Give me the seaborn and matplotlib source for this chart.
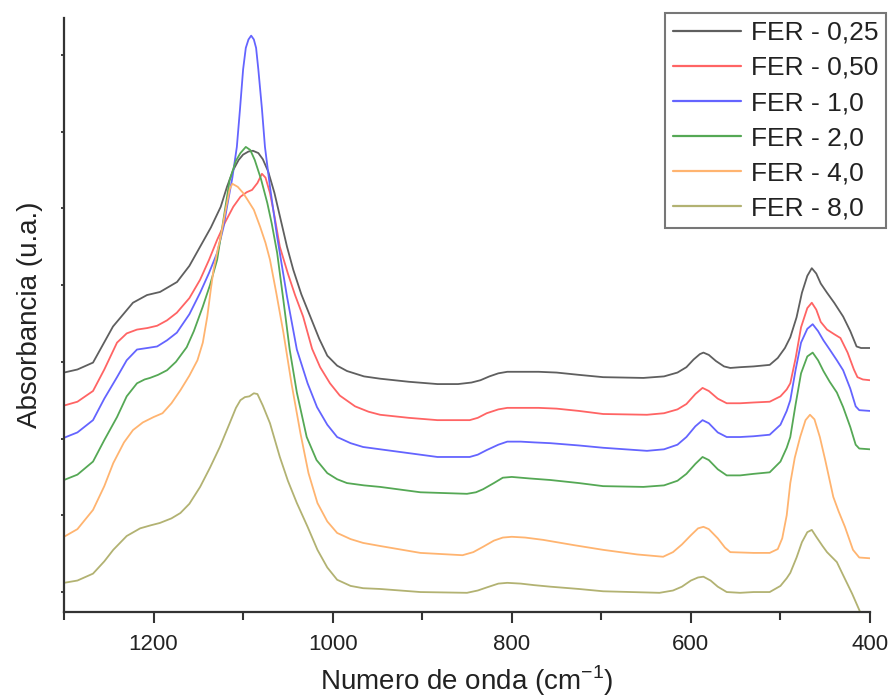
import numpy as np
import pandas as pd
import matplotlib
matplotlib.use("Agg")
import matplotlib.pyplot as plt
import seaborn as sns

sns.set_theme(style="white")
plt.rcParams['font.family'] = ['Liberation Sans', 'DejaVu Sans']

labels = ["FER - 0,25", "FER - 0,50", "FER - 1,0", "FER - 2,0", "FER - 4,0", "FER - 8,0"]
colors = ["#5f5f5f", "#ff6464", "#6464ff", "#55a855", "#ffb470", "#b2b272"]

w_025 = [1300, 1285, 1267.6, 1245.3, 1223, 1207.3, 1192.8, 1173.8, 1160, 1148, 1136, 1125, 1118, 1111, 1105,
         1100, 1094, 1089, 1083, 1078, 1072, 1065, 1058, 1051, 1044, 1035, 1025, 1015, 1006, 995, 984, 965,
         947, 915, 883, 860, 845, 835, 825, 815, 805, 790, 770, 750, 725, 698, 653, 630, 615, 605, 597, 590,
         586, 580, 572, 563, 556, 545, 530, 512, 503, 495, 489, 482, 476, 470, 465, 460, 455, 448, 440, 430,
         422, 415, 410, 400]
a_025 = [2.86, 2.90, 2.99, 3.46, 3.77, 3.87, 3.91, 4.04, 4.25, 4.50, 4.75, 5.02, 5.28, 5.50, 5.63,
         5.70, 5.74, 5.75, 5.72, 5.64, 5.48, 5.20, 4.85, 4.50, 4.20, 3.88, 3.59, 3.30, 3.08, 2.95, 2.88, 2.81,
         2.78, 2.74, 2.71, 2.71, 2.73, 2.76, 2.81, 2.85, 2.87, 2.87, 2.87, 2.86, 2.83, 2.80, 2.79, 2.81, 2.86,
         2.93, 3.03, 3.10, 3.12, 3.09, 3.01, 2.94, 2.92, 2.93, 2.94, 2.96, 3.05, 3.18, 3.32, 3.58, 3.90, 4.12,
         4.22, 4.15, 4.02, 3.90, 3.77, 3.59, 3.40, 3.20, 3.18, 3.18]

w_050 = [1300, 1285, 1267.6, 1255, 1240.8, 1230, 1218.5, 1207, 1196, 1185, 1174, 1160, 1148, 1138, 1129, 1120,
         1111, 1103, 1096, 1090, 1084, 1079, 1075, 1070, 1065, 1059, 1050, 1042, 1033, 1023, 1014, 1003, 992,
         975, 960, 947, 915, 883, 847, 838, 828, 815, 805, 790, 770, 750, 725, 698, 649, 630, 615, 605, 595,
         587, 580, 570, 560, 545, 530, 512, 500, 493, 489, 483, 477, 470, 465, 460, 455, 448, 440, 433, 425,
         418, 414, 408, 400]
a_050 = [2.43, 2.48, 2.62, 2.90, 3.25, 3.37, 3.42, 3.44, 3.47, 3.54, 3.64, 3.83, 4.07, 4.33, 4.59, 4.82,
         5.02, 5.15, 5.21, 5.24, 5.33, 5.45, 5.40, 5.20, 4.90, 4.50, 4.15, 3.87, 3.59, 3.17, 2.93, 2.72, 2.56,
         2.42, 2.35, 2.31, 2.27, 2.24, 2.24, 2.27, 2.33, 2.38, 2.40, 2.40, 2.40, 2.39, 2.36, 2.32, 2.31, 2.33,
         2.38, 2.45, 2.58, 2.66, 2.62, 2.52, 2.46, 2.46, 2.47, 2.48, 2.55, 2.64, 2.72, 3.05, 3.45, 3.70, 3.77,
         3.68, 3.52, 3.42, 3.36, 3.31, 3.12, 2.90, 2.80, 2.77, 2.76]

w_10 = [1300, 1285, 1267.6, 1255, 1240.8, 1230, 1218.5, 1207, 1196, 1185, 1174, 1160, 1148, 1138, 1129, 1122,
        1118, 1112, 1107, 1103.5, 1100, 1097, 1094, 1091, 1088, 1085.5, 1083, 1079, 1075.6, 1070, 1062, 1051,
        1040, 1028, 1017.5, 1006, 995, 980, 966, 947, 915, 883, 847, 838, 828, 815, 805, 790, 775, 757, 725,
        698, 649, 630, 615, 605, 595, 587, 580, 570, 560, 545, 530, 512, 500, 493, 489, 483, 477, 470, 464,
        458, 452, 445, 437, 430, 422, 416, 412, 400]
a_10 = [2.01, 2.08, 2.24, 2.52, 2.80, 3.02, 3.16, 3.18, 3.20, 3.28, 3.38, 3.62, 3.90, 4.16, 4.42, 4.75,
        5.02, 5.40, 5.80, 6.29, 6.81, 7.09, 7.20, 7.25, 7.20, 7.09, 6.81, 6.30, 5.80, 5.28, 4.63, 3.85,
        3.16, 2.72, 2.41, 2.18, 2.02, 1.94, 1.89, 1.86, 1.81, 1.76, 1.76, 1.79, 1.85, 1.92, 1.96, 1.96, 1.95,
        1.94, 1.91, 1.88, 1.84, 1.86, 1.92, 2.02, 2.16, 2.24, 2.20, 2.08, 2.02, 2.02, 2.03, 2.05, 2.18, 2.36,
        2.50, 2.90, 3.25, 3.43, 3.49, 3.40, 3.28, 3.16, 3.02, 2.89, 2.65, 2.42, 2.37, 2.36]

w_20 = [1300, 1285, 1267.6, 1255, 1240.8, 1230, 1218.5, 1210, 1204, 1195, 1185, 1175, 1163, 1155, 1145, 1137,
        1129, 1122, 1115, 1108, 1103, 1097, 1092, 1087, 1080, 1073, 1068, 1062, 1055, 1048, 1040, 1029, 1018,
        1006, 995, 984, 965, 947, 902, 850, 840, 832, 820, 810, 800, 780, 757, 725, 698, 653, 630, 615, 605,
        595, 587, 580, 570, 560, 545, 530, 512, 500, 493, 489, 483, 477, 470, 464, 458, 452, 445, 437, 430,
        422, 416, 412, 400]
a_20 = [1.46, 1.53, 1.70, 1.98, 2.28, 2.55, 2.72, 2.77, 2.79, 2.83, 2.89, 3.00, 3.19, 3.40, 3.72, 4.00,
        4.33, 4.85, 5.37, 5.62, 5.72, 5.80, 5.76, 5.63, 5.38, 5.07, 4.80, 4.42, 3.80, 3.16, 2.60, 2.02, 1.72,
        1.55, 1.47, 1.42, 1.39, 1.37, 1.30, 1.28, 1.30, 1.34, 1.42, 1.49, 1.50, 1.48, 1.46, 1.42, 1.38, 1.37,
        1.39, 1.45, 1.54, 1.67, 1.76, 1.72, 1.60, 1.52, 1.52, 1.54, 1.56, 1.70, 1.88, 2.02, 2.45, 2.85, 3.07,
        3.12, 3.02, 2.88, 2.74, 2.60, 2.41, 2.15, 1.92, 1.87, 1.86]

w_40 = [1300, 1285, 1267.6, 1255, 1245, 1233, 1223, 1212, 1200, 1190, 1180, 1170, 1160, 1151, 1145, 1140,
        1136, 1133, 1128, 1125, 1120, 1115, 1112, 1106, 1100, 1095, 1088, 1081, 1075, 1070, 1063, 1055, 1046,
        1036, 1027, 1017, 1006, 995, 980, 966, 947, 902, 855, 843, 832, 820, 810, 800, 785, 765, 730, 698,
        660, 631, 620, 610, 600, 592, 586, 580, 570, 562, 556, 530, 512, 503, 498, 493, 489, 484, 478, 472,
        467, 462, 456, 450, 441, 435, 428, 419, 412, 400]
a_40 = [0.72, 0.82, 1.07, 1.38, 1.68, 1.95, 2.11, 2.21, 2.28, 2.33, 2.46, 2.63, 2.82, 3.02, 3.25, 3.59,
        3.95, 4.20, 4.48, 4.63, 4.95, 5.25, 5.32, 5.28, 5.20, 5.11, 4.98, 4.76, 4.55, 4.33, 3.90, 3.38, 2.72,
        2.07, 1.55, 1.16, 0.92, 0.77, 0.69, 0.64, 0.60, 0.51, 0.48, 0.52, 0.59, 0.67, 0.71, 0.72, 0.71, 0.68,
        0.61, 0.55, 0.49, 0.46, 0.52, 0.62, 0.74, 0.83, 0.85, 0.82, 0.70, 0.58, 0.52, 0.51, 0.51, 0.56, 0.70,
        1.00, 1.42, 1.75, 2.02, 2.24, 2.31, 2.25, 2.02, 1.72, 1.24, 1.05, 0.85, 0.55, 0.45, 0.44]

w_80 = [1300, 1285, 1267.6, 1255, 1245, 1230, 1215, 1203, 1193, 1180, 1170, 1160, 1148, 1137, 1126, 1115,
        1108, 1103, 1098, 1093, 1088, 1084, 1078, 1070, 1059, 1050, 1040, 1028, 1017, 1006, 995, 980, 966,
        947, 902, 850, 838, 828, 815, 805, 790, 775, 757, 725, 698, 635, 620, 610, 600, 592, 586, 578, 570,
        560, 545, 530, 512, 500, 493, 489, 482, 476, 470, 465, 460, 453, 448, 437, 430, 420, 411, 400]
a_80 = [0.12, 0.15, 0.24, 0.40, 0.55, 0.73, 0.83, 0.87, 0.90, 0.96, 1.03, 1.15, 1.37, 1.62, 1.89, 2.20,
        2.40, 2.50, 2.54, 2.55, 2.59, 2.58, 2.43, 2.20, 1.76, 1.45, 1.16, 0.85, 0.55, 0.32, 0.16, 0.08, 0.05,
        0.04, 0.00, -0.01, 0.02, 0.06, 0.11, 0.12, 0.11, 0.09, 0.07, 0.04, 0.01, -0.01, 0.02, 0.07, 0.15,
        0.19, 0.20, 0.15, 0.07, 0.00, -0.01, 0.00, 0.00, 0.08, 0.18, 0.25, 0.45, 0.65, 0.78, 0.81, 0.72,
        0.60, 0.52, 0.39, 0.22, -0.02, -0.26, -0.50]

series = [(w_025, a_025), (w_050, a_050), (w_10, a_10), (w_20, a_20), (w_40, a_40), (w_80, a_80)]
frames = []
for lab, (w, a) in zip(labels, series):
    frames.append(pd.DataFrame({"w": w, "a": a, "s": lab}))
df = pd.concat(frames, ignore_index=True)

fig = plt.figure(figsize=(8.92, 6.99), dpi=100)
ax = fig.add_axes([64/892, 1 - 612/699, (870-64)/892, (612-18)/699])

sns.lineplot(data=df, x="w", y="a", hue="s", hue_order=labels, palette=dict(zip(labels, colors)),
             estimator=None, sort=True, linewidth=1.3, ax=ax, legend=False)
for ln in ax.get_lines():
    ln.set_solid_joinstyle('round')

ax.set_xlim(1300, 400)
ax.set_ylim(-0.26, 7.48)
ax.set_xticks([1200, 1000, 800, 600, 400])
ax.set_xticks([1300, 1100, 900, 700, 500], minor=True)
ax.set_yticks(range(8))
ax.set_yticklabels([])
ax.tick_params(axis='x', which='major', length=8, width=1.5, direction='out', color='#333333',
               labelsize=16, labelcolor='#222222', pad=8, bottom=True)
ax.tick_params(axis='x', which='minor', length=6, width=1.5, direction='out', color='#333333', bottom=True)
ax.tick_params(axis='y', which='major', length=2.5, width=1.3, direction='out', color='#333333', left=True)

for side in ['top', 'right']:
    ax.spines[side].set_visible(False)
for side in ['left', 'bottom']:
    ax.spines[side].set_color('#333333')
    ax.spines[side].set_linewidth(1.6)

ax.set_xlabel("Numero de onda (cm$^{\\mathregular{-1}}$)", fontsize=20, color='#222222', labelpad=6)
ax.set_ylabel("Absorbancia (u.a.)", fontsize=20, color='#222222', labelpad=9)

handles = [plt.Line2D([], [], color=c, lw=1.6) for c in colors]
leg = ax.legend(handles, labels, loc='upper right', bbox_to_anchor=(886/892, 1 - 13/699),
                bbox_transform=fig.transFigure, borderaxespad=0, fontsize=19, frameon=True,
                fancybox=False, edgecolor='#555555', handlelength=2.6, handletextpad=0.35,
                labelspacing=0.42, borderpad=0.3)
leg.get_frame().set_linewidth(1.5)
for t in leg.get_texts():
    t.set_color('#222222')

fig.savefig("out.png", dpi=100)
